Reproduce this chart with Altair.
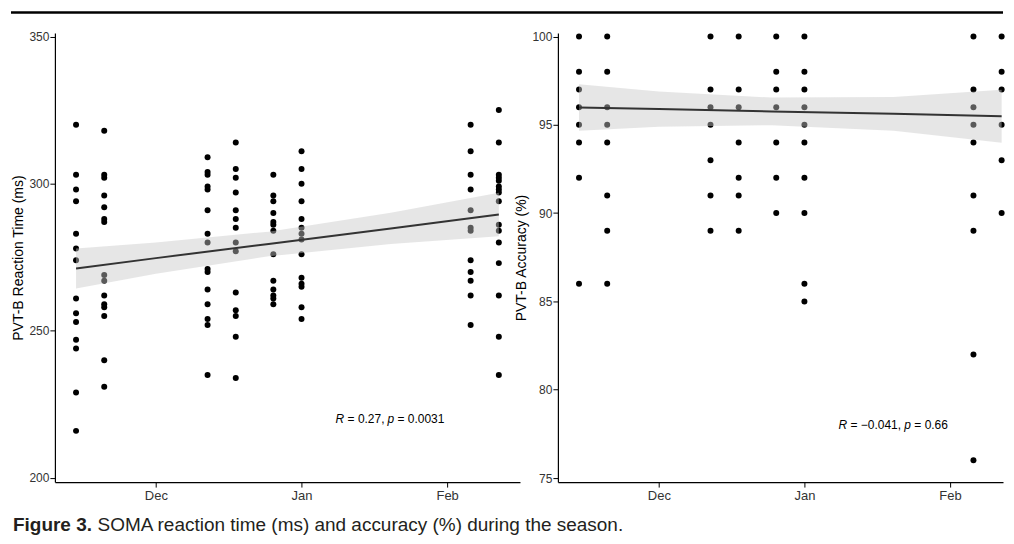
import altair as alt
import pandas as pd

# ---- data ----
session_dates = ["2019-11-14", "2019-11-20", "2019-12-12", "2019-12-18",
                 "2019-12-26", "2020-01-01", "2020-02-06", "2020-02-12"]

rt_by_session = [
    [320, 303, 298, 294, 283, 278, 274, 261, 256, 253, 247, 244, 229, 216],
    [318, 303, 302, 296, 292, 288, 287, 269, 267, 262, 259, 258, 255, 240, 231],
    [309, 304, 303, 299, 298, 291, 283, 280, 271, 270, 264, 259, 254, 252, 235],
    [314, 305, 302, 297, 291, 288, 285, 280, 277, 263, 257, 255, 248, 234],
    [303, 296, 294, 290, 287, 286, 284, 276, 267, 264, 262, 261, 259],
    [311, 305, 300, 294, 288, 285, 283, 281, 276, 268, 266, 265, 258, 254],
    [320, 311, 303, 298, 291, 285, 284, 274, 270, 267, 262, 252],
    [325, 314, 303, 302, 301, 299, 298, 297, 294, 286, 284, 280, 273, 262, 248, 235],
]

acc_by_session = [
    [100, 98, 97, 96, 95, 94, 92, 86],
    [100, 98, 96, 95, 94, 91, 89, 86],
    [100, 97, 96, 95, 93, 91, 89],
    [100, 97, 96, 94, 92, 91, 89],
    [100, 98, 97, 96, 94, 92, 90],
    [100, 98, 97, 96, 95, 94, 92, 90, 86, 85],
    [100, 97, 96, 95, 94, 91, 89, 82, 76],
    [100, 98, 97, 95, 93, 90],
]

# linear fit and confidence band
fit_dates = ["2019-11-14", "2019-12-01", "2019-12-25", "2020-01-20", "2020-02-12"]
rt_fit = [271.2, 274.7, 279.5, 284.8, 289.5]
rt_lo = [264.4, 269.4, 275.3, 279.5, 282.1]
rt_hi = [278.0, 280.0, 283.7, 290.1, 296.9]
acc_fit = [95.98, 95.89, 95.76, 95.62, 95.48]
acc_lo = [94.66, 94.89, 94.98, 94.67, 93.98]
acc_hi = [97.30, 96.89, 96.54, 96.57, 96.98]

rt_ticks = [200, 250, 300, 350]
acc_ticks = [75, 80, 85, 90, 95, 100]
rt_title = "PVT-B Reaction Time (ms)"
acc_title = "PVT-B Accuracy (%)"
stat_date = "2020-01-08T06:00:00"
rt_stat = [("R", True, 0), ("= 0.27,", False, 12), ("p", True, 52), ("= 0.0031", False, 62)]
acc_stat = [("R", True, 0), ("= \u22120.041,", False, 12), ("p", True, 66), ("= 0.66", False, 76)]
rt_stat_y = 220
acc_stat_y = 78
caption_bold = "Figure 3."
caption_rest = "SOMA reaction time (ms) and accuracy (%) during the season."

FONT = "Liberation Sans"
PH = 450
LEFT_W = 466
RIGHT_W = 446

left_domain = [alt.DateTime(year=2019, month=11, date=9, hours=12),
               alt.DateTime(year=2020, month=2, date=16, hours=12)]
right_domain = [alt.DateTime(year=2019, month=11, date=9, hours=12),
                alt.DateTime(year=2020, month=2, date=12, hours=7)]
x_ticks = [alt.DateTime(year=2019, month=12, date=1),
           alt.DateTime(year=2020, month=1, date=1),
           alt.DateTime(year=2020, month=2, date=1)]


def points_frame(values_by_session):
    rows = []
    for d, vals in zip(session_dates, values_by_session):
        for v in vals:
            rows.append({"date": d + "T00:00:00", "value": v})
    return pd.DataFrame(rows)


def fit_frame(fit, lo, hi):
    return pd.DataFrame({"date": [d + "T00:00:00" for d in fit_dates],
                         "fit": fit, "lo": lo, "hi": hi})


def x_enc(domain):
    return alt.X("date:T", scale=alt.Scale(domain=domain),
                 axis=alt.Axis(values=x_ticks, format="%b", grid=False, tickSize=5,
                               labelPadding=2, labelFontSize=13, labelColor="#333333",
                               domainColor="black", tickColor="black", domainWidth=1.2),
                 title=None)


def panel(values, fit, lo, hi, y_domain, y_ticks, y_title, stat, stat_y, domain):
    yscale = alt.Scale(domain=y_domain, nice=False, zero=False)
    yaxis = alt.Axis(values=y_ticks, grid=False, tickSize=5, labelPadding=1,
                     labelFontSize=12, labelColor="#333333", domainColor="black",
                     tickColor="black", domainWidth=1.2, title=y_title,
                     titleFontSize=14, titleFontWeight="normal", titleColor="black",
                     titleX=-36, titleY=PH / 2, titleAngle=270, titleAlign="center",
                     titleBaseline="middle")
    pts = alt.Chart(points_frame(values)).mark_circle(size=36, color="black", opacity=1).encode(
        x=x_enc(domain), y=alt.Y("value:Q", scale=yscale, axis=yaxis))
    ff = fit_frame(fit, lo, hi)
    band = alt.Chart(ff).mark_area(color="#c8c8c8", opacity=0.45).encode(
        x=x_enc(domain), y=alt.Y("lo:Q", scale=yscale), y2="hi:Q")
    line = alt.Chart(ff).mark_line(color="#333333", strokeWidth=2).encode(
        x=x_enc(domain), y=alt.Y("fit:Q", scale=yscale))
    layers = [pts, band, line]
    for txt, italic, dx in stat:
        df = pd.DataFrame({"date": [stat_date], "value": [stat_y], "t": [txt]})
        layers.append(alt.Chart(df).mark_text(
            align="left", baseline="middle", dx=dx, fontSize=12, font=FONT,
            fontStyle="italic" if italic else "normal", color="black").encode(
            x=x_enc(domain), y=alt.Y("value:Q", scale=yscale), text="t:N"))
    return layers


left_layers = panel(rt_by_session, rt_fit, rt_lo, rt_hi, [198.6, 351.2], rt_ticks,
                    rt_title, rt_stat, rt_stat_y, left_domain)
right_layers = panel(acc_by_session, acc_fit, acc_lo, acc_hi, [74.77, 100.2], acc_ticks,
                     acc_title, acc_stat, acc_stat_y, right_domain)

# decorative top rule and caption (in the left panel's pixel space)
one = pd.DataFrame({"a": [0]})
top_rule = alt.Chart(one).mark_rule(color="black", strokeWidth=2.5).encode(
    x=alt.value(-44), x2=alt.value(950), y=alt.value(-20.5))
cap1 = alt.Chart(pd.DataFrame({"t": [caption_bold]})).mark_text(
    align="left", baseline="alphabetic", fontSize=19, fontWeight="bold", font=FONT,
    color="#231f20").encode(x=alt.value(-42), y=alt.value(499), text="t:N")
cap2 = alt.Chart(pd.DataFrame({"t": [caption_rest]})).mark_text(
    align="left", baseline="alphabetic", fontSize=19, font=FONT,
    color="#231f20").encode(x=alt.value(42.7), y=alt.value(499), text="t:N")

left = alt.layer(*left_layers, top_rule, cap1, cap2).properties(width=LEFT_W, height=PH)
right = alt.layer(*right_layers).properties(width=RIGHT_W, height=PH)

chart = alt.hconcat(left, right, spacing=38, bounds="flush").properties(
    padding={"left": 1, "top": 2.5, "right": 0, "bottom": 0}
).configure(font=FONT).configure_view(stroke=None)

chart.save("out.html", embed_options={"renderer": "svg", "actions": False})
